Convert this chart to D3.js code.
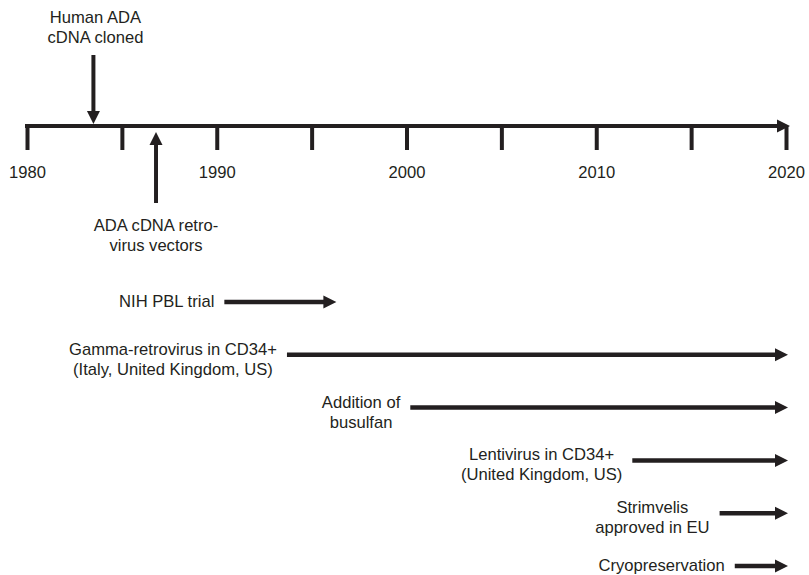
<!DOCTYPE html>
<html>
<head>
<meta charset="utf-8">
<script src="https://cdn.jsdelivr.net/npm/d3@7"></script>
<style>
  html, body { margin: 0; padding: 0; background: #fff; }
  svg text { font-family: "Liberation Sans", Arial, sans-serif; font-size: 16.6px; fill: #231f20; }
</style>
</head>
<body>
<svg id="chart" width="809" height="575"></svg>
<script>
// Timeline ticks
const tickYears = [1980, 1985, 1990, 1995, 2000, 2005, 2010, 2015, 2020];
const labelYears = [1980, 1990, 2000, 2010, 2020];

// Point events on the axis
const eventLabels = [['Human ADA', 'cDNA cloned'], ['ADA cDNA retro-', 'virus vectors']];
const eventYears = [1983.5, 1986.8];
const eventSide = ['above', 'below'];

// Periods drawn as arrows under the axis
const phaseLabels = [
  ['NIH PBL trial'],
  ['Gamma-retrovirus in CD34+', '(Italy, United Kingdom, US)'],
  ['Addition of', 'busulfan'],
  ['Lentivirus in CD34+', '(United Kingdom, US)'],
  ['Strimvelis', 'approved in EU'],
  ['Cryopreservation']
];
const phaseStart = [1990.4, 1993.7, 2000.2, 2011.9, 2016.5, 2017.3];
const phaseEnd = [1996.2, 2020, 2020, 2020, 2020, 2020];

const ink = '#231f20';
const axisY = 126;
const headLen = 13, headHalf = 6.5;

const svg = d3.select('#chart');

const x = d3.scaleLinear()
  .domain([1980, 2020])
  .range([27, 786]);

const rowY = d3.scalePoint()
  .domain(d3.range(phaseLabels.length))
  .range([302, 566]);

// Axis
const xAxis = d3.axisBottom(x)
  .tickValues(tickYears)
  .tickSize(24)
  .tickSizeOuter(0)
  .tickPadding(16)
  .tickFormat(d => labelYears.includes(d) ? d : '');

const axisG = svg.append('g')
  .attr('transform', `translate(0, ${axisY})`)
  .call(xAxis);

axisG.select('.domain')
  .attr('stroke', ink)
  .attr('stroke-width', 4)
  .attr('d', `M${x(1980) - 2},0H${x(2020) - 8}`);
axisG.selectAll('.tick line')
  .attr('stroke', ink)
  .attr('stroke-width', 4);
axisG.selectAll('.tick text')
  .attr('fill', ink)
  .style('font-family', '"Liberation Sans", Arial, sans-serif')
  .style('font-size', '16.6px');

// arrow head at (tx, ty) pointing in direction dir ('right' | 'down' | 'up')
function head(g, tx, ty, dir) {
  let pts;
  if (dir === 'right') pts = [[tx, ty], [tx - headLen, ty - headHalf], [tx - headLen, ty + headHalf]];
  if (dir === 'down') pts = [[tx, ty], [tx - headHalf, ty - headLen], [tx + headHalf, ty - headLen]];
  if (dir === 'up') pts = [[tx, ty], [tx - headHalf, ty + headLen], [tx + headHalf, ty + headLen]];
  g.append('polygon')
    .attr('points', pts.map(p => p.join(',')).join(' '))
    .attr('fill', ink);
}

head(svg, x(2020) + 4, axisY, 'right');

// Events (vertical arrows)
eventYears.forEach((yr, i) => {
  const g = svg.append('g');
  const cx = x(yr);
  const lines = eventLabels[i];
  if (eventSide[i] === 'above') {
    g.append('line')
      .attr('x1', cx).attr('x2', cx)
      .attr('y1', 55).attr('y2', axisY - 2 - headLen + 1)
      .attr('stroke', ink).attr('stroke-width', 4);
    head(g, cx, axisY - 2, 'down');
    lines.forEach((t, j) => {
      g.append('text')
        .attr('x', cx + 2).attr('y', 23 + j * 20)
        .attr('text-anchor', 'middle')
        .text(t);
    });
  } else {
    g.append('line')
      .attr('x1', cx).attr('x2', cx)
      .attr('y1', axisY + 6 + headLen - 1).attr('y2', 203)
      .attr('stroke', ink).attr('stroke-width', 4);
    head(g, cx, axisY + 6, 'up');
    lines.forEach((t, j) => {
      g.append('text')
        .attr('x', cx).attr('y', 231 + j * 20)
        .attr('text-anchor', 'middle')
        .text(t);
    });
  }
});

// Phases (horizontal arrows with labels on the left)
phaseLabels.forEach((lines, i) => {
  const g = svg.append('g');
  const y = rowY(i);
  const x0 = x(phaseStart[i]);
  const x1 = x(phaseEnd[i]) + 2;
  g.append('line')
    .attr('x1', x0).attr('x2', x1 - headLen + 1)
    .attr('y1', y).attr('y2', y)
    .attr('stroke', ink).attr('stroke-width', 4.5);
  head(g, x1, y, 'right');

  const texts = lines.map((t, j) => g.append('text')
    .attr('y', y + (lines.length === 1 ? 5 : 0) + j * 20)
    .attr('text-anchor', 'middle')
    .text(t));
  const w = d3.max(texts, t => t.node().getComputedTextLength());
  texts.forEach(t => t.attr('x', x0 - 10 - w / 2));
});
</script>
</body>
</html>
